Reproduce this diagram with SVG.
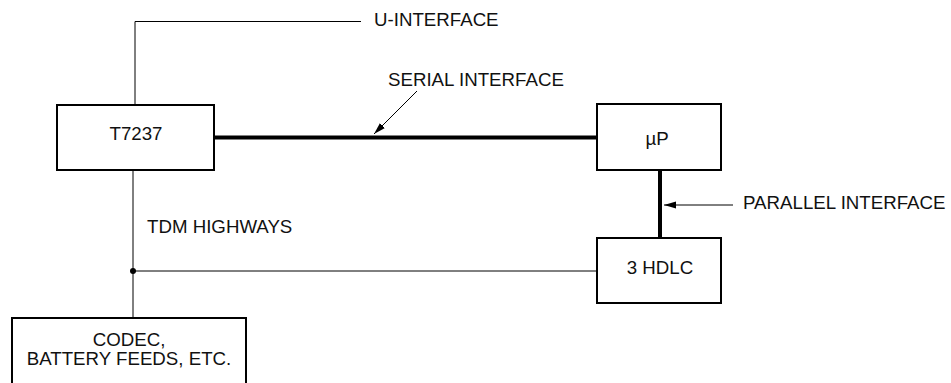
<svg xmlns="http://www.w3.org/2000/svg" width="951" height="383" viewBox="0 0 951 383">
<style>
.box{fill:#fff;stroke:#000;stroke-width:2}
.t{font-family:"Liberation Sans",Arial,sans-serif;font-size:18.7px;fill:#111}
.thin{stroke:#000;stroke-width:1;fill:none}
.thick{stroke:#000;stroke-width:4;fill:none}
</style>
<defs>
<marker id="ah" viewBox="0 0 12 10" refX="12" refY="5" markerWidth="12" markerHeight="10" markerUnits="userSpaceOnUse" orient="auto">
<path d="M0,1.5 L12,5 L0,8.5 Z" fill="#000"/>
</marker>
</defs>
<rect width="951" height="383" fill="#fff"/>
<g id="connectors">
<polyline class="thin" points="135,105 135,21.5 361,21.5"/>
<line class="thick" x1="215" y1="137.5" x2="597" y2="137.5"/>
<line class="thick" x1="660" y1="170" x2="660" y2="238"/>
<line class="thin" x1="133" y1="170" x2="133" y2="318"/>
<line class="thin" x1="133" y1="271" x2="597" y2="271"/>
<circle cx="133" cy="271" r="3" fill="#000"/>
<line class="thin" x1="417" y1="91" x2="374" y2="134" marker-end="url(#ah)"/>
<line class="thin" x1="733" y1="205" x2="664" y2="205" marker-end="url(#ah)"/>
</g>
<g id="labels">
<text class="t" x="374" y="26">U-INTERFACE</text>
<text class="t" x="388" y="86">SERIAL INTERFACE</text>
<text class="t" x="743" y="209">PARALLEL INTERFACE</text>
<text class="t" x="147" y="233">TDM HIGHWAYS</text>
</g>
<g id="t7237">
<rect class="box" x="57" y="105" width="157" height="65"/>
<text class="t" x="136" y="140" text-anchor="middle">T7237</text>
</g>
<g id="up">
<rect class="box" x="597" y="104" width="124" height="66"/>
<text class="t" x="657" y="145" text-anchor="middle">µP</text>
</g>
<g id="hdlc">
<rect class="box" x="597" y="238" width="124" height="65"/>
<text class="t" x="660" y="274" text-anchor="middle">3 HDLC</text>
</g>
<g id="codec">
<rect class="box" x="12" y="318" width="234" height="75"/>
<text class="t" x="129" y="346" text-anchor="middle">CODEC,</text>
<text class="t" x="129" y="365" text-anchor="middle">BATTERY FEEDS, ETC.</text>
</g>
</svg>
